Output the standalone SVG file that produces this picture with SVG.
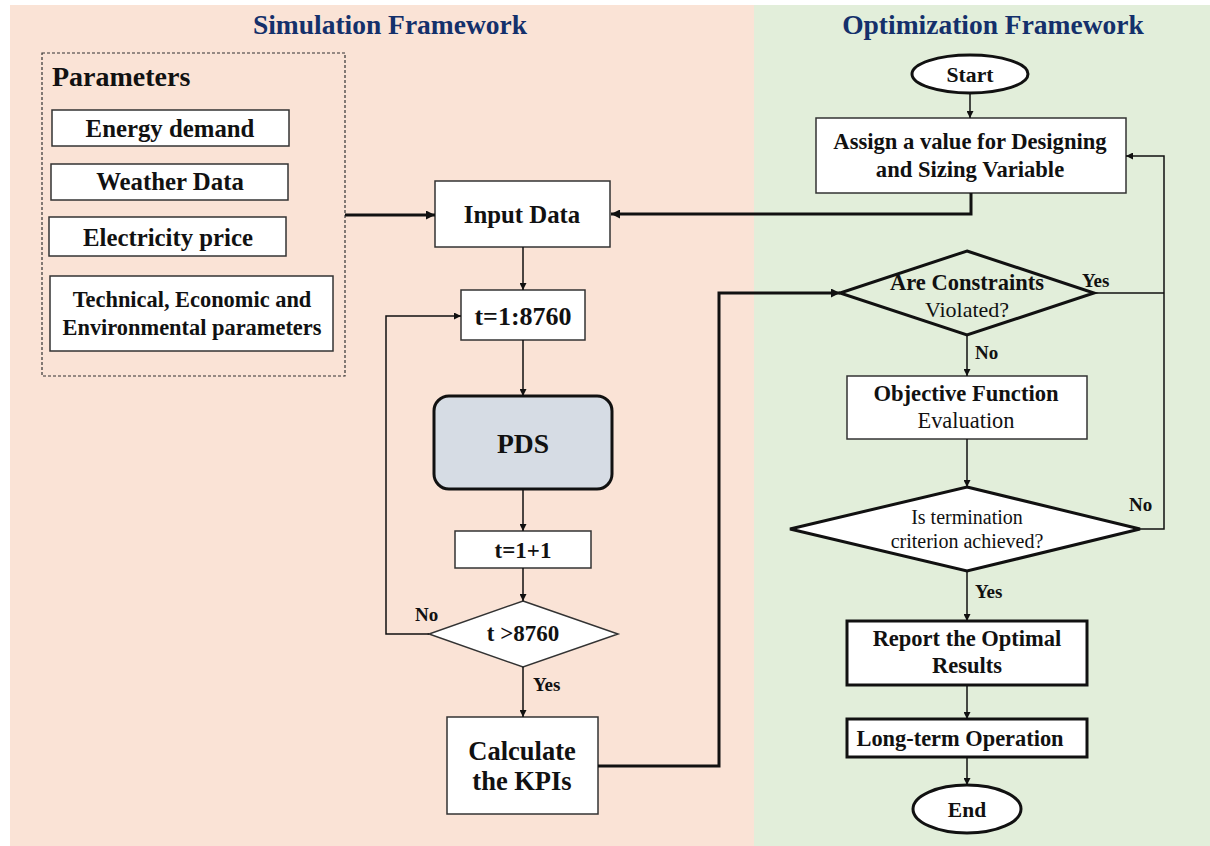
<svg xmlns="http://www.w3.org/2000/svg" width="1210" height="846" viewBox="0 0 1210 846">
  <style>
    text { font-family: "Liberation Serif", "Times New Roman", serif; fill: #111; }
    .title { font-size: 27.5px; font-weight: bold; fill: #14306b; text-anchor: middle; }
    .b { font-weight: bold; }
    .c { text-anchor: middle; }
    .box { fill: #fff; stroke: #333; stroke-width: 1.5; }
    .thick { fill: #fff; stroke: #111; stroke-width: 3; }
    .lbl { font-size: 19px; font-weight: bold; }
    .ln { fill: none; stroke: #111; stroke-width: 1.5; }
    .lnt { fill: none; stroke: #111; stroke-width: 3; }
  </style>
  <defs>
    <marker id="ah" viewBox="0 0 10 10" refX="10" refY="5" markerWidth="7" markerHeight="7" markerUnits="userSpaceOnUse" orient="auto">
      <path d="M0,0 L10,5 L0,10 z" fill="#111"/>
    </marker>
    <marker id="ahb" viewBox="0 0 10 10" refX="10" refY="5" markerWidth="9" markerHeight="9" markerUnits="userSpaceOnUse" orient="auto">
      <path d="M0,0 L10,5 L0,10 z" fill="#111"/>
    </marker>
  </defs>

  <!-- background panels -->
  <rect x="0" y="0" width="1210" height="846" fill="#ffffff"/>
  <rect id="panel-sim" x="10" y="5" width="744" height="841" fill="#fae3d6"/>
  <rect id="panel-opt" x="754" y="5" width="456" height="841" fill="#e2eeda"/>
  <text class="title" x="390" y="34">Simulation Framework</text>
  <text class="title" x="993" y="34">Optimization Framework</text>

  <!-- parameter group -->
  <g id="parameters">
    <rect x="42" y="53" width="303" height="323" fill="none" stroke="#333" stroke-width="1.2" stroke-dasharray="3,2"/>
    <text x="52" y="86" class="b" style="font-size:28px">Parameters</text>
  </g>
  <g id="energy-demand">
    <rect class="box" x="52" y="110" width="237" height="36"/>
    <text class="b c" x="170" y="137" style="font-size:24.8px">Energy demand</text>
  </g>
  <g id="weather-data">
    <rect class="box" x="51" y="164" width="237" height="36"/>
    <text class="b c" x="170" y="190" style="font-size:24.8px">Weather Data</text>
  </g>
  <g id="electricity-price">
    <rect class="box" x="49" y="217" width="237" height="39"/>
    <text class="b c" x="168" y="246" style="font-size:24.8px">Electricity price</text>
  </g>
  <g id="tech-params">
    <rect class="box" x="50" y="276" width="283" height="75"/>
    <text class="b c" x="192" y="307" style="font-size:22.4px">Technical, Economic and</text>
    <text class="b c" x="192" y="335" style="font-size:22.4px">Environmental parameters</text>
  </g>

  <!-- simulation loop -->
  <g id="input-data">
    <rect class="box" x="435" y="181" width="175" height="66"/>
    <text class="b c" x="522" y="223" style="font-size:24.8px">Input Data</text>
  </g>
  <g id="t-range">
    <rect class="box" x="461" y="290" width="124" height="50"/>
    <text class="b c" x="523" y="325" style="font-size:26px">t=1:8760</text>
  </g>
  <g id="pds">
    <rect x="434" y="396" width="178" height="93" rx="15" ry="15" fill="#d6dce4" stroke="#111" stroke-width="3"/>
    <text class="b c" x="523" y="453" style="font-size:27.6px">PDS</text>
  </g>
  <g id="t-increment">
    <rect class="box" x="455" y="531" width="136" height="37"/>
    <text class="b c" x="523" y="558" style="font-size:23px">t=1+1</text>
  </g>
  <g id="t-check">
    <polygon points="523,601 618,634 523,667 429,634" fill="#fff" stroke="#333" stroke-width="1.5"/>
    <text class="b c" x="523" y="641" style="font-size:23px">t &gt;8760</text>
  </g>
  <g id="kpis">
    <rect class="box" x="447" y="717" width="151" height="97"/>
    <text class="b c" x="522" y="760" style="font-size:26.5px">Calculate</text>
    <text class="b c" x="522" y="790" style="font-size:26.5px">the KPIs</text>
  </g>

  <!-- optimisation loop -->
  <g id="start">
    <ellipse cx="970" cy="74" rx="58" ry="19" fill="#fff" stroke="#111" stroke-width="3"/>
    <text class="b c" x="970" y="82" style="font-size:21.7px">Start</text>
  </g>
  <g id="assign">
    <rect class="box" x="816" y="118" width="310" height="75"/>
    <text class="b c" x="970" y="149" style="font-size:22.6px">Assign a value for Designing</text>
    <text class="b c" x="970" y="177" style="font-size:22.6px">and Sizing Variable</text>
  </g>
  <g id="constraints">
    <polygon points="967,251 1094,293 967,335 840,293" fill="none" stroke="#111" stroke-width="3"/>
    <text class="b c" x="967" y="290" style="font-size:22.5px">Are Constraints</text>
    <text class="c" x="967" y="317" style="font-size:22px">Violated?</text>
  </g>
  <g id="objective">
    <rect class="box" x="847" y="376" width="240" height="63"/>
    <text class="b c" x="966" y="401" style="font-size:22.6px">Objective Function</text>
    <text class="c" x="966" y="428" style="font-size:22.4px">Evaluation</text>
  </g>
  <g id="termination">
    <polygon points="967,487 1140,529 967,571 790,529" fill="#fff" stroke="#111" stroke-width="3"/>
    <text class="c" x="967" y="524" style="font-size:20px">Is termination</text>
    <text class="c" x="967" y="548" style="font-size:20px">criterion achieved?</text>
  </g>
  <g id="report">
    <rect class="thick" x="847" y="621" width="240" height="64"/>
    <text class="b c" x="967" y="646" style="font-size:22.5px">Report the Optimal</text>
    <text class="b c" x="967" y="673" style="font-size:22.5px">Results</text>
  </g>
  <g id="long-term">
    <rect class="thick" x="847" y="719" width="240" height="38"/>
    <text class="b c" x="960" y="746" style="font-size:22.4px">Long-term Operation</text>
  </g>
  <g id="end">
    <ellipse cx="967" cy="809" rx="54" ry="24" fill="#fff" stroke="#111" stroke-width="3"/>
    <text class="b c" x="967" y="817" style="font-size:21.5px">End</text>
  </g>

  <!-- connectors -->
  <g id="connectors">
    <path class="lnt" d="M345,215 H435" marker-end="url(#ahb)"/>
    <path class="lnt" d="M971,193 V214 H611" marker-end="url(#ahb)"/>
    <path class="ln" d="M523,247 V290" marker-end="url(#ah)"/>
    <path class="ln" d="M523,340 V396" marker-end="url(#ah)"/>
    <path class="ln" d="M523,489 V531" marker-end="url(#ah)"/>
    <path class="ln" d="M523,568 V601" marker-end="url(#ah)"/>
    <path class="ln" d="M429,634 H386 V316 H461" marker-end="url(#ah)"/>
    <path class="ln" d="M523,667 V717" marker-end="url(#ah)"/>
    <path class="lnt" d="M598,766 H719 V293 H840" marker-end="url(#ahb)"/>
    <path class="ln" d="M970,93 V118" marker-end="url(#ah)"/>
    <path class="ln" d="M1094,293 H1164"/>
    <path class="ln" d="M1140,529 H1164 V156 H1126" marker-end="url(#ah)"/>
    <path class="ln" d="M967,335 V376" marker-end="url(#ah)"/>
    <path class="ln" d="M967,439 V487" marker-end="url(#ah)"/>
    <path class="ln" d="M967,571 V621" marker-end="url(#ah)"/>
    <path class="ln" d="M967,685 V719" marker-end="url(#ah)"/>
    <path class="ln" d="M967,757 V785" marker-end="url(#ah)"/>
    <text class="lbl" x="415" y="621">No</text>
    <text class="lbl" x="533" y="691">Yes</text>
    <text class="lbl" x="1082" y="287">Yes</text>
    <text class="lbl" x="975" y="359">No</text>
    <text class="lbl" x="1129" y="511">No</text>
    <text class="lbl" x="975" y="598">Yes</text>
  </g>
</svg>
